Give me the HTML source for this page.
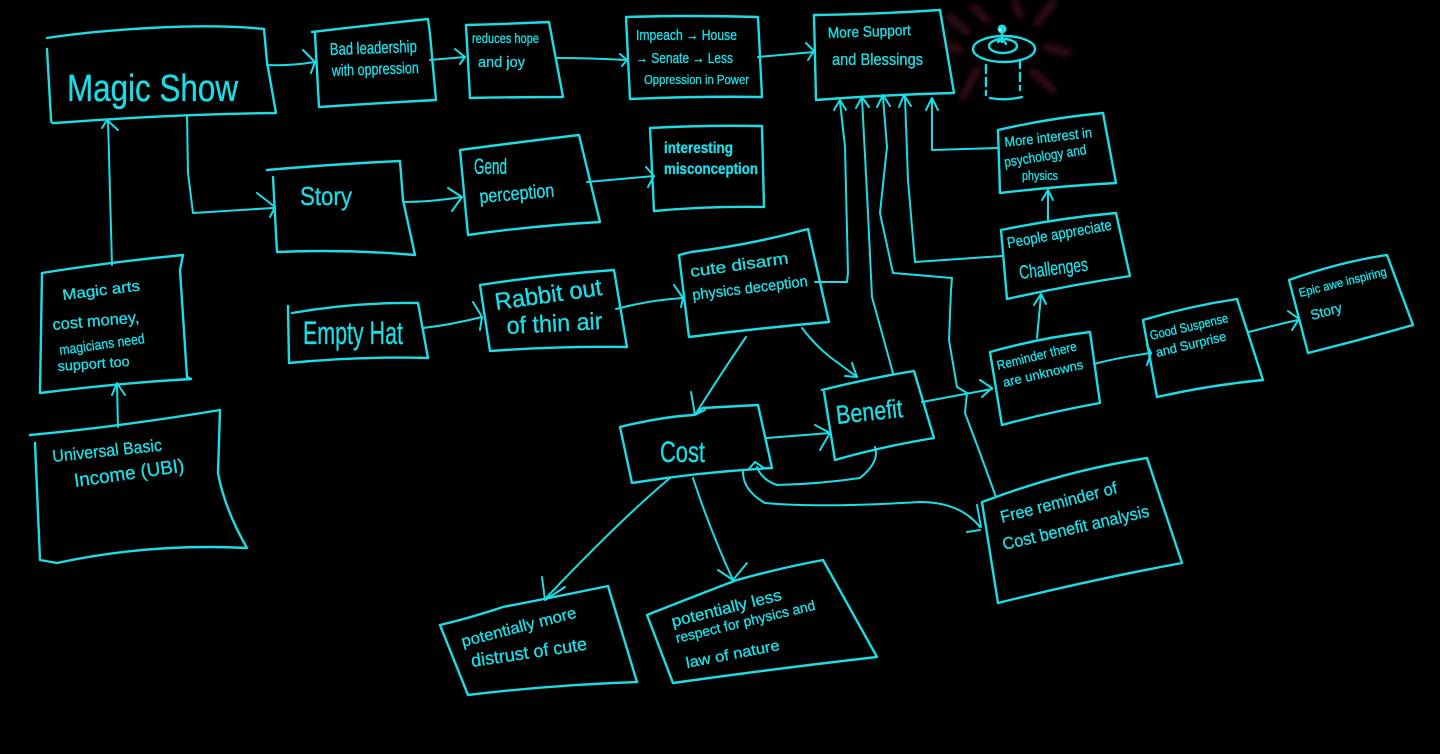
<!DOCTYPE html>
<html><head><meta charset="utf-8"><style>
html,body{margin:0;padding:0;background:#000;}
body{width:1440px;height:754px;overflow:hidden;}
svg{display:block;}
.s{stroke:#1cdde6;stroke-width:2.4;fill:none;stroke-linecap:round;stroke-linejoin:round;}
.a{stroke:#1cdde6;stroke-width:2;fill:none;stroke-linecap:round;stroke-linejoin:round;}
text{fill:#1cdde6;stroke:#1cdde6;stroke-width:0.35;font-family:"Liberation Sans",sans-serif;}
</style></head><body>
<svg width="1440" height="754" viewBox="0 0 1440 754" xmlns="http://www.w3.org/2000/svg">
<defs><filter id="bl" x="-50%" y="-50%" width="200%" height="200%"><feGaussianBlur stdDeviation="3"/></filter></defs>
<rect width="1440" height="754" fill="#000"/>

<!-- hat glow -->
<g stroke="#5a1626" stroke-width="8" opacity="0.55" filter="url(#bl)" stroke-linecap="round">
<path d="M950,17 L967,32"/><path d="M973,7 L987,20"/><path d="M1015,3 L1020,15"/><path d="M1053,3 L1037,23"/>
<path d="M1047,47 L1068,53"/><path d="M1033,72 L1053,90"/><path d="M977,70 L963,97"/><path d="M945,45 L960,50"/>
</g>
<!-- hat -->
<g class="s">
<ellipse cx="1004" cy="49" rx="31" ry="13"/>
<ellipse cx="1003" cy="46" rx="14" ry="7"/>
<path d="M1002,33 L1002,42"/>
<path d="M998,42 Q1003,38 1006,44"/>
<path d="M986,65 L986,95" stroke-dasharray="8,5"/>
<path d="M1020,60 L1020,90" stroke-dasharray="8,5"/>
<path d="M990,98 Q1006,101 1022,97"/>
</g>
<circle cx="1002" cy="29" r="4.5" fill="#1cdde6"/>
<circle cx="1000" cy="30" r="1.2" fill="#fff"/>

<!-- boxes -->
<g class="s">
<path d="M47,38 C100,30 200,22 264,29 L267,62 L276,113 C200,114 120,118 55,123 Q51,124 51,119 L47,49"/>
<path d="M312,32 Q370,25 428,19 L430,34 L436,100 Q380,103 319,107 L315,34"/>
<path d="M466,25 Q505,24 549,22 L563,97 Q520,97 470,98 Z"/>
<path d="M626,17 Q690,15 758,17 L762,97 Q700,96 630,99 Z"/>
<path d="M814,15 Q880,14 940,10 L954,93 Q880,95 816,100 Z"/>
<path d="M650,128 Q705,125 762,126 L764,207 Q710,206 654,211 Z"/>
<path d="M460,150 Q520,142 579,135 L600,222 Q530,226 468,235 Z"/>
<path d="M267,170 Q335,164 400,161 L403,200 L415,255 Q345,249 277,252 L273,177"/>
<path d="M288,306 L289,363 Q360,356 428,358 L418,303 Q355,302 292,313"/>
<path d="M480,285 Q545,275 614,270 L627,347 Q560,346 490,351 Z"/>
<path d="M679,255 L691,252 Q750,245 808,229 L829,322 Q760,328 689,337 Z"/>
<path d="M42,273 Q110,262 183,255 L180,270 L187,377 L191,379 Q120,383 40,393 Z"/>
<path d="M30,435 Q117,427 220,410 L218,473 Q225,510 247,548 Q150,543 57,563 L40,560 L35,443"/>
<path d="M620,427 Q660,417 693,415 L703,408 L758,405 L772,468 Q700,472 632,483 Z"/>
<path d="M822,390 Q870,378 914,371 L934,438 Q880,447 835,460 L824,392"/>
<path d="M990,352 Q1040,338 1090,332 L1100,403 Q1050,412 1002,425 Z"/>
<path d="M1143,320 Q1190,306 1237,299 L1263,380 Q1210,385 1157,397 Z"/>
<path d="M1289,280 Q1340,262 1387,255 L1413,325 Q1360,340 1308,353 Z"/>
<path d="M998,130 Q1050,118 1103,113 L1116,183 Q1060,186 1000,193 Z"/>
<path d="M1001,230 Q1060,218 1116,213 L1130,276 Q1070,285 1007,299 Z"/>
<path d="M982,502 L996,497 Q1070,470 1147,458 L1182,563 Q1090,580 998,603 Z"/>
<path d="M440,625 Q470,618 503,607 Q560,596 608,586 L637,682 Q550,685 468,695 Z"/>
<path d="M647,615 Q700,594 737,580 Q780,568 823,560 L877,657 Q780,668 673,683 Z"/>
</g>

<!-- connectors -->
<g class="a">
<path d="M267,65 Q290,66 315,62"/><path d="M303,50 L315,62 L311,73"/>
<path d="M430,60 L465,57"/><path d="M455,49 L465,57 L460,64"/>
<path d="M557,58 Q590,58 626,60"/><path d="M620,54 L627,60 L622,66"/>
<path d="M758,57 L814,52"/><path d="M806,43 L814,51 L808,60"/>
<path d="M187,115 L188,173 L193,213 L273,208"/><path d="M257,193 L275,207 L270,217"/>
<path d="M404,202 Q430,202 462,197"/><path d="M448,188 L462,197 L452,211"/>
<path d="M587,182 L654,176"/><path d="M646,167 L654,176 L648,187"/>
<path d="M112,265 L108,120"/><path d="M102,128 L107,120 L118,130"/>
<path d="M118,427 L117,385"/><path d="M112,395 L117,383 L125,395"/>
<path d="M423,328 Q450,325 482,317"/><path d="M473,302 L482,317 L480,330"/>
<path d="M616,309 Q650,300 683,298"/><path d="M674,285 L683,298 L681,307"/>
<path d="M815,282 L847,282 L848,273 L845,147 L840,102"/><path d="M834,110 L840,100 L846,110"/>
<path d="M893,373 L872,297 L868,213 L862,98"/><path d="M856,108 L862,97 L869,107"/>
<path d="M996,497 L980,453 L965,413 L967,393 L957,387 L949,340 L951,290 L952,278 L893,273 L880,213 L887,147 L883,97"/><path d="M877,107 L883,95 L890,106"/>
<path d="M1002,256 L915,262 L908,180 L905,97"/><path d="M899,107 L904,95 L911,106"/>
<path d="M998,148 L932,150 L932,100"/><path d="M926,110 L932,98 L938,110"/>
<path d="M802,328 Q815,345 830,357 Q845,368 857,377"/><path d="M852,363 L857,377 L845,376"/>
<path d="M746,337 Q720,375 695,415"/><path d="M691,392 L695,415 L705,410"/>
<path d="M767,438 L830,433"/><path d="M815,425 L830,433 L820,450"/>
<path d="M875,447 Q880,462 860,478 Q820,484 777,485 Q762,480 757,467"/><path d="M748,470 L755,462 L764,468"/>
<path d="M743,470 Q742,490 765,503 Q820,508 920,502 Q960,502 980,527"/><path d="M967,532 L980,530"/><path d="M977,505 L981,527"/>
<path d="M922,402 L992,389"/><path d="M980,380 L992,388 L982,397"/>
<path d="M1037,338 L1041,295"/><path d="M1034,305 L1041,294 L1046,304"/>
<path d="M1048,220 L1048,192"/><path d="M1042,200 L1048,190 L1053,200"/>
<path d="M1094,364 Q1120,357 1151,353"/><path d="M1147,345 L1151,353 L1147,365"/>
<path d="M1249,332 Q1275,325 1298,320"/><path d="M1288,311 L1299,319 L1292,330"/>
<path d="M670,478 Q620,520 547,597"/><path d="M542,577 L545,600 L565,587"/>
<path d="M693,478 Q710,530 733,580"/><path d="M718,570 L733,580 L747,563"/>
</g>

<!-- text -->
<text x="67" y="101" font-size="38" textLength="171" lengthAdjust="spacingAndGlyphs">Magic Show</text>
<text x="330" y="55" font-size="17" textLength="87" lengthAdjust="spacingAndGlyphs" transform="rotate(-2 330 55)">Bad leadership</text>
<text x="332" y="76" font-size="16" textLength="87" lengthAdjust="spacingAndGlyphs" transform="rotate(-2 332 76)">with oppression</text>
<text x="472" y="43" font-size="14" textLength="67" lengthAdjust="spacingAndGlyphs">reduces hope</text>
<text x="478" y="67" font-size="15" textLength="47" lengthAdjust="spacingAndGlyphs">and joy</text>
<text x="636" y="40" font-size="15" textLength="101" lengthAdjust="spacingAndGlyphs">Impeach → House</text>
<text x="636" y="63" font-size="15" textLength="97" lengthAdjust="spacingAndGlyphs">→ Senate → Less</text>
<text x="644" y="84" font-size="13" textLength="105" lengthAdjust="spacingAndGlyphs">Oppression in Power</text>
<text x="828" y="38" font-size="15" textLength="83" lengthAdjust="spacingAndGlyphs" transform="rotate(-2 828 38)">More Support</text>
<text x="832" y="65" font-size="17" textLength="91" lengthAdjust="spacingAndGlyphs">and Blessings</text>
<text x="300" y="205" font-size="26" textLength="52" lengthAdjust="spacingAndGlyphs">Story</text>
<text x="474" y="174" font-size="22" textLength="33" lengthAdjust="spacingAndGlyphs">Gend</text>
<text x="480" y="203" font-size="19" textLength="75" lengthAdjust="spacingAndGlyphs" transform="rotate(-5 480 203)">perception</text>
<text x="664" y="153" font-size="16" font-weight="bold" textLength="69" lengthAdjust="spacingAndGlyphs">interesting</text>
<text x="664" y="174" font-size="16" font-weight="bold" textLength="94" lengthAdjust="spacingAndGlyphs">misconception</text>
<text x="303" y="344" font-size="32" textLength="100" lengthAdjust="spacingAndGlyphs">Empty Hat</text>
<text x="496" y="310" font-size="24" textLength="108" lengthAdjust="spacingAndGlyphs" transform="rotate(-8 496 310)">Rabbit out</text>
<text x="507" y="334" font-size="24" textLength="96" lengthAdjust="spacingAndGlyphs" transform="rotate(-3 507 334)">of thin air</text>
<text x="691" y="277" font-size="16" textLength="99" lengthAdjust="spacingAndGlyphs" transform="rotate(-8 691 277)">cute disarm</text>
<text x="693" y="300" font-size="15" textLength="116" lengthAdjust="spacingAndGlyphs" transform="rotate(-7 693 300)">physics deception</text>
<text x="660" y="462" font-size="30" textLength="45" lengthAdjust="spacingAndGlyphs">Cost</text>
<text x="837" y="424" font-size="26" textLength="67" lengthAdjust="spacingAndGlyphs" transform="rotate(-6 837 424)">Benefit</text>
<text x="63" y="300" font-size="15" textLength="78" lengthAdjust="spacingAndGlyphs" transform="rotate(-7 63 300)">Magic arts</text>
<text x="53" y="330" font-size="16" textLength="87" lengthAdjust="spacingAndGlyphs" transform="rotate(-5 53 330)">cost money,</text>
<text x="60" y="355" font-size="14" textLength="86" lengthAdjust="spacingAndGlyphs" transform="rotate(-8 60 355)">magicians need</text>
<text x="58" y="371" font-size="14" textLength="72" lengthAdjust="spacingAndGlyphs" transform="rotate(-4 58 371)">support too</text>
<text x="53" y="462" font-size="17" textLength="110" lengthAdjust="spacingAndGlyphs" transform="rotate(-6 53 462)">Universal Basic</text>
<text x="75" y="487" font-size="19" textLength="111" lengthAdjust="spacingAndGlyphs" transform="rotate(-8 75 487)">Income (UBI)</text>
<text x="1005" y="147" font-size="14" textLength="88" lengthAdjust="spacingAndGlyphs" transform="rotate(-6.5 1005 147)">More interest in</text>
<text x="1005" y="167" font-size="14" textLength="83" lengthAdjust="spacingAndGlyphs" transform="rotate(-9 1005 167)">psychology and</text>
<text x="1022" y="180" font-size="13" textLength="36" lengthAdjust="spacingAndGlyphs">physics</text>
<text x="1008" y="248" font-size="15" textLength="106" lengthAdjust="spacingAndGlyphs" transform="rotate(-10 1008 248)">People appreciate</text>
<text x="1020" y="279" font-size="19" textLength="69" lengthAdjust="spacingAndGlyphs" transform="rotate(-7 1020 279)">Challenges</text>
<text x="998" y="370" font-size="13" textLength="82" lengthAdjust="spacingAndGlyphs" transform="rotate(-14 998 370)">Reminder there</text>
<text x="1004" y="387" font-size="13" textLength="82" lengthAdjust="spacingAndGlyphs" transform="rotate(-13 1004 387)">are unknowns</text>
<text x="1151" y="340" font-size="13" textLength="80" lengthAdjust="spacingAndGlyphs" transform="rotate(-13 1151 340)">Good Suspense</text>
<text x="1157" y="357" font-size="13" textLength="72" lengthAdjust="spacingAndGlyphs" transform="rotate(-13.5 1157 357)">and Surprise</text>
<text x="1300" y="297" font-size="12" textLength="90" lengthAdjust="spacingAndGlyphs" transform="rotate(-14 1300 297)">Epic awe inspiring</text>
<text x="1312" y="320" font-size="14" textLength="32" lengthAdjust="spacingAndGlyphs" transform="rotate(-15 1312 320)">Story</text>
<text x="1002" y="523" font-size="17" textLength="120" lengthAdjust="spacingAndGlyphs" transform="rotate(-14.5 1002 523)">Free reminder of</text>
<text x="1004" y="550" font-size="17" textLength="150" lengthAdjust="spacingAndGlyphs" transform="rotate(-13 1004 550)">Cost benefit analysis</text>
<text x="463" y="647" font-size="16" textLength="118" lengthAdjust="spacingAndGlyphs" transform="rotate(-14.5 463 647)">potentially more</text>
<text x="472" y="667" font-size="18" textLength="117" lengthAdjust="spacingAndGlyphs" transform="rotate(-8.5 472 667)">distrust of cute</text>
<text x="673" y="627" font-size="16" textLength="113" lengthAdjust="spacingAndGlyphs" transform="rotate(-14 673 627)">potentially less</text>
<text x="677" y="643" font-size="14" textLength="143" lengthAdjust="spacingAndGlyphs" transform="rotate(-13.5 677 643)">respect for physics and</text>
<text x="687" y="668" font-size="15" textLength="95" lengthAdjust="spacingAndGlyphs" transform="rotate(-11 687 668)">law of nature</text>
</svg>
</body></html>
